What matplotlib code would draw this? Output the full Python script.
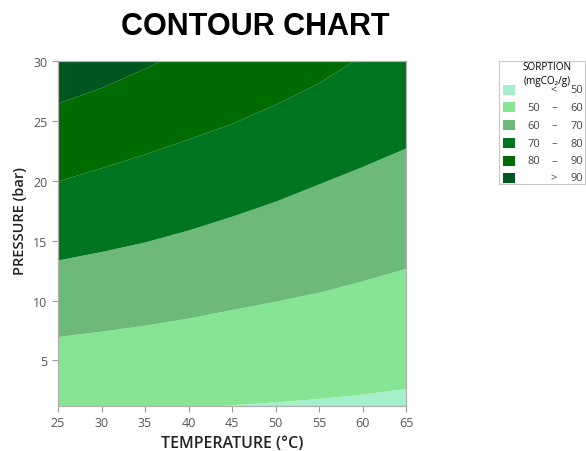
import numpy as np
import matplotlib
matplotlib.use("Agg")
from matplotlib import pyplot as plt
from matplotlib.patches import Rectangle

plt.rcParams["font.family"] = ["Open Sans", "DejaVu Sans"]

temps = [25, 30, 35, 40, 45, 50, 55, 60, 65]

# pressure (bar) of each contour edge at those temperatures
edge_50 = [0.3, 0.55, 0.8, 1.05, 1.3, 1.55, 1.83, 2.2, 2.67]
edge_60 = [7.0, 7.45, 7.95, 8.55, 9.25, 9.95, 10.7, 11.65, 12.7]
edge_70 = [13.4, 14.1, 14.9, 15.9, 17.05, 18.3, 19.75, 21.2, 22.75]
edge_80 = [20.0, 21.1, 22.25, 23.5, 24.8, 26.4, 28.2, 30.5, 33.0]
edge_90 = [26.5, 27.8, 29.4, 31.2, 33.2, 35.3, 37.5, 39.8, 42.2]

band_labels = [("", "<", "50"), ("50", "–", "60"), ("60", "–", "70"),
               ("70", "–", "80"), ("80", "–", "90"), ("", ">", "90")]
band_colors = ["#a6efcb", "#86e592", "#6db97a", "#00751f", "#006b00", "#00561f"]

p_min, p_max = 1.2, 30
t_min, t_max = 25, 65

fig = plt.figure(figsize=(5.86, 4.52), dpi=100)
ax = fig.add_axes([58 / 586, 1 - 407 / 452, 348 / 586, 345 / 452])

edges = [np.full(len(temps), p_min - 5), edge_50, edge_60, edge_70,
         edge_80, edge_90, np.full(len(temps), p_max + 20)]
for i, c in enumerate(band_colors):
    ax.fill_between(temps, edges[i], edges[i + 1], color=c, lw=0)

ax.set_xlim(t_min, t_max)
ax.set_ylim(p_min, p_max)
ax.set_xticks(range(25, 66, 5))
ax.set_yticks([5, 10, 15, 20, 25, 30])
ax.tick_params(colors="#9a9a9a", labelcolor="#555555", labelsize=9, length=4, width=0.8)
for s in ax.spines.values():
    s.set_color("#b0b0b0")
    s.set_linewidth(0.9)

ax.set_xlabel("TEMPERATURE (°C)", fontsize=11.5, fontweight="semibold", color="#222222", labelpad=4)
ax.set_ylabel("PRESSURE (bar)", fontsize=10.5, fontweight="semibold", color="#222222")
ax.yaxis.set_label_coords(-0.09, 0.54)

fig.text(255 / 586, 1 - 27 / 452, "CONTOUR CHART", ha="center", va="center",
         fontsize=22, fontweight="bold", family="Liberation Sans")

# legend box
lg = fig.add_axes([499 / 586, 1 - 185 / 452, 86 / 586, 123 / 452])
lg.set_xlim(0, 86)
lg.set_ylim(123, 0)
lg.set_xticks([])
lg.set_yticks([])
for s in lg.spines.values():
    s.set_color("#c8c8c8")
    s.set_linewidth(0.8)
lg.text(48, 5, "SORPTION", ha="center", va="center", fontsize=7.2)
lg.text(48, 19, "(mgCO₂/g)", ha="center", va="center", fontsize=7.2)
row_y = [28.5, 46, 64, 82, 99.5, 116.5]
for (lo, mid, hi), c, y in zip(band_labels, band_colors, row_y):
    lg.add_patch(Rectangle((4, y - 5), 12, 10, color=c, lw=0))
    lg.text(41, y, lo, ha="right", va="center", fontsize=8, color="#444444")
    lg.text(55, y, mid, ha="center", va="center", fontsize=8, color="#444444")
    lg.text(84, y, hi, ha="right", va="center", fontsize=8, color="#444444")

fig.savefig("out.png", dpi=100)
